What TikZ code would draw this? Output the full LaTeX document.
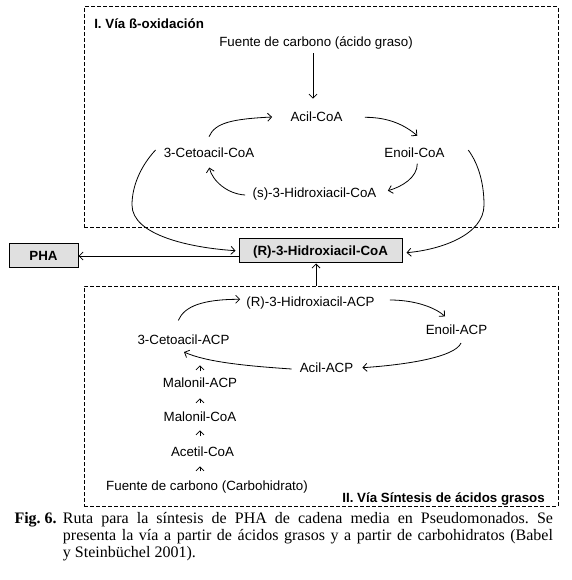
\documentclass[tikz,border=0pt]{standalone}
\usepackage{fontspec}
\setmainfont{Liberation Serif}
\setsansfont{Liberation Sans}
\usepackage{tikz}
\usetikzlibrary{arrows.meta,calc}
\definecolor{boxgray}{gray}{0.88}
\frenchspacing
\tikzset{
  metab/.style={font=\sffamily\fontsize{10}{12}\selectfont, text height=8pt, text depth=0.8pt, inner sep=2pt},
  boxtitle/.style={metab, font=\sffamily\bfseries\fontsize{10}{12}\selectfont, inner sep=0pt},
  keybox/.style={metab, font=\sffamily\bfseries\fontsize{10}{12}\selectfont, draw, line width=0.75pt, fill=boxgray, minimum height=18pt, inner sep=0pt},
  dashframe/.style={draw, line width=0.75pt, dash pattern=on 3pt off 1.5pt, inner sep=0pt},
  flow/.style={-{Straight Barb[length=3pt,width=6pt]}, line width=0.6pt}
}
\begin{document}
\begin{tikzpicture}[x=0.75pt, y=-0.75pt]
            \useasboundingbox (0,0) rectangle (571,580);

            \node (boxOxi) [dashframe, minimum width=355.5pt, minimum height=165.75pt] at (321,117.5) {};
            \node (boxSint) [dashframe, minimum width=355.5pt, minimum height=165pt] at (321,396) {};
            \node (lblOxi) [boxtitle, anchor=west] at (94,24) {I. Vía ß-oxidación};
            \node (lblSint) [boxtitle, anchor=east] at (545,498) {II. Vía Síntesis de ácidos grasos};

            \node (fuenteAG) [metab] at (316,42) {Fuente de carbono (ácido graso)};
            \node (acilCoA) [metab] at (316.5,117) {Acil-CoA};
            \node (cetoCoA) [metab] at (209,153) {3-Cetoacil-CoA};
            \node (enoilCoA) [metab] at (414.5,153) {Enoil-CoA};
            \node (hidroxCoA) [metab] at (314.5,193) {(s)-3-Hidroxiacil-CoA};

            \node (rHidrox) [keybox, minimum width=122.25pt] at (320.5,251) {(R)-3-Hidroxiacil-CoA};
            \node (pha) [keybox, minimum width=51.75pt] at (43.5,256) {PHA};

            \node (rHidroxACP) [metab] at (310.5,302) {(R)-3-Hidroxiacil-ACP};
            \node (enoilACP) [metab] at (456.5,330) {Enoil-ACP};
            \node (cetoACP) [metab] at (183.5,340) {3-Cetoacil-ACP};
            \node (acilACP) [metab] at (326.5,368) {Acil-ACP};
            \node (malonilACP) [metab] at (200,383) {Malonil-ACP};
            \node (malonilCoA) [metab] at (200,417) {Malonil-CoA};
            \node (acetilCoA) [metab] at (202.5,452) {Acetil-CoA};
            \node (fuenteCH) [metab] at (207,486) {Fuente de carbono (Carbohidrato)};

            % ciclo de beta-oxidacion
            \draw [flow] ($(fuenteAG.south)+(-3,2.5)$) -- ($(acilCoA.north)+(-3.5,-9.5)$);
            \draw [flow] ($(cetoCoA.north)+(0,-7.5)$) .. controls +(6,-14) and +(-40,2) .. ($(acilCoA.west)+(-15.5,0)$);
            \draw [flow] ($(acilCoA.east)+(19.5,0.3)$) .. controls +(25,0) and +(-12,-10) .. ($(enoilCoA.north)+(2.8,-8.5)$);
            \draw [flow] ($(enoilCoA.south)+(2.8,1.8)$) .. controls +(0,14) and +(14,-4) .. ($(hidroxCoA.east)+(8.6,-2.3)$);
            \draw [flow] ($(hidroxCoA.west)+(-4.6,2)$) .. controls +(-18,-1) and +(3,13) .. ($(cetoCoA.south)+(0.3,5.8)$);

            \draw [flow] ($(cetoCoA.west)+(-5.3,-3)$) .. controls +(-14,15) and +(0,-20) .. (132,205)
                .. controls +(0,30) and +(-46,-3) .. ($(rHidrox.west)+(-3,-0.3)$);
            \draw [flow] ($(enoilCoA.east)+(20.8,-3)$) .. controls +(11,15) and +(0,-20) .. (484,205)
                .. controls +(0,30) and +(34,-3) .. ($(rHidrox.east)+(4,1.7)$);

            \draw [flow] (rHidrox.west |- pha.east) -- (pha.east);
            \coordinate (upR) at ($(rHidrox.south)+(-4.5,0)$);
            \draw [flow] (boxSint.north -| upR) -- (upR);

            % sintesis de acidos grasos
            \draw [flow] ($(cetoACP.north)+(-5.2,-10.8)$) .. controls +(6,-14) and +(-38,0) .. ($(rHidroxACP.west)+(-3.3,-2.7)$);
            \draw [flow] ($(rHidroxACP.east)+(12.3,-2)$) .. controls +(25,0) and +(-10,-9) .. ($(enoilACP.north)+(-11.5,-4.8)$);
            \draw [flow] ($(enoilACP.south)+(4.5,4.2)$) .. controls +(-6,14) and +(45,-3) .. ($(acilACP.east)+(6.3,-0.3)$);
            \draw [flow] ($(acilACP.west)+(-5.3,1)$) .. controls +(-45,-3) and +(22,10) .. ($(cetoACP.south)+(0.5,3.2)$);

            \foreach \from/\to/\a/\b in {malonilACP/cetoACP/2.1pt/12.4pt, malonilCoA/malonilACP/4.1pt/4.9pt,
                acetilCoA/malonilCoA/5.1pt/3.4pt, fuenteCH/acetilCoA/4.4pt/4.1pt}
                \draw [flow, shorten <=\a, shorten >=\b] (\from.north -| malonilACP) -- (\to.south -| malonilACP);

            \node (figNo) [anchor=base east, inner sep=0pt, font=\bfseries\fontsize{12}{12.75}\selectfont] at (57,523.5) {Fig. 6.};
            \node (caption) [anchor=base west, inner sep=0pt, text width=367.5pt, align=justify,
                font=\fontsize{12}{12.75}\selectfont] at (62.7,523.5)
                {Ruta para la síntesis de PHA de cadena media en Pseudomonados. Se\linebreak
                presenta la vía a partir de ácidos grasos y a partir de carbohidratos (Babel\linebreak
                y Steinbüchel 2001).};
\end{tikzpicture}
\end{document}
